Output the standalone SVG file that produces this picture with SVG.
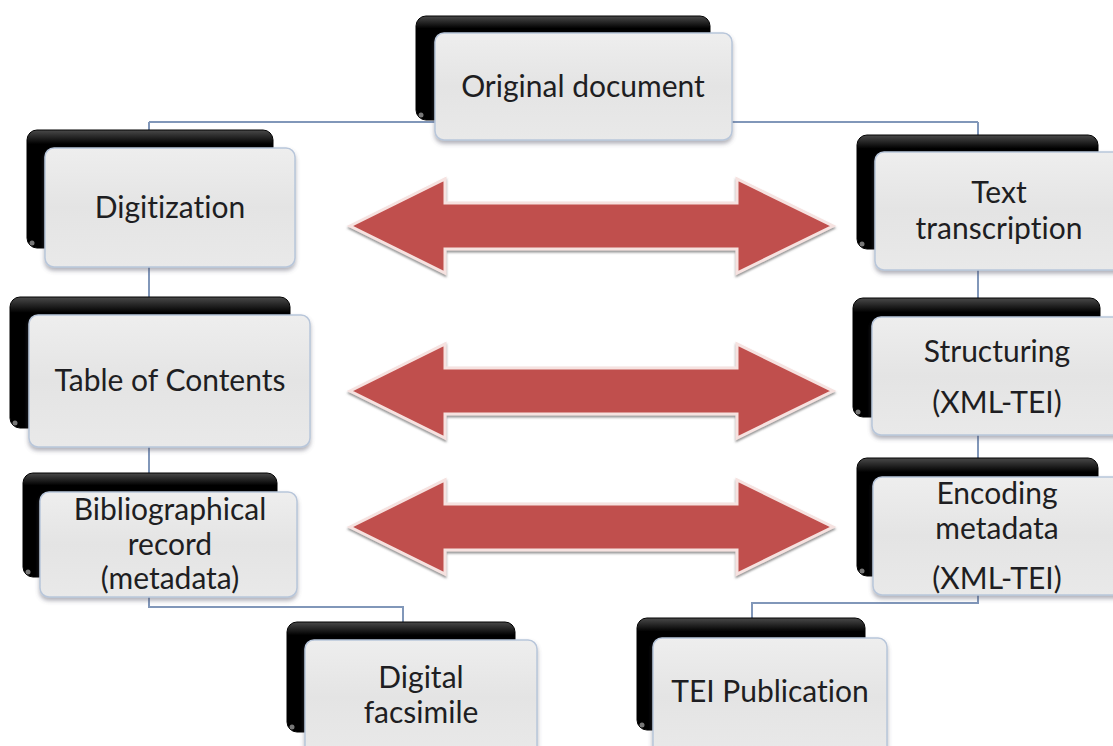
<svg xmlns="http://www.w3.org/2000/svg" width="1113" height="746" viewBox="0 0 1113 746">
<style>
.back{fill:url(#gBlack);stroke:#000;stroke-width:1}
.front{fill:url(#gFront);stroke:#b8c6da;stroke-width:1.5;filter:url(#shadow)}
.lbl{font-family:Lato,"Liberation Sans",sans-serif;font-size:30px;fill:#1e1e22;text-anchor:middle;font-variant-ligatures:none;font-feature-settings:"liga" 0,"clig" 0}
.conn{fill:none;stroke:#8197b9;stroke-width:2}
.arrow{fill:#c0504d;stroke:#f6e2e0;stroke-width:3;stroke-linejoin:miter;filter:url(#ashadow)}
.dot{fill:#777}
</style>
<defs>
<linearGradient id="gBlack" x1="0" y1="0" x2="0" y2="1">
<stop offset="0" stop-color="#4a4a4a"/>
<stop offset="0.12" stop-color="#000"/>
<stop offset="1" stop-color="#000"/>
</linearGradient>
<linearGradient id="gFront" x1="0" y1="0" x2="0" y2="1">
<stop offset="0" stop-color="#eeeeee"/>
<stop offset="0.5" stop-color="#e4e4e4"/>
<stop offset="1" stop-color="#e9e9e9"/>
</linearGradient>
<filter id="shadow" x="-10%" y="-10%" width="120%" height="130%">
<feDropShadow dx="0" dy="3" stdDeviation="2" flood-color="#556" flood-opacity="0.45"/>
</filter>
<filter id="ashadow" x="-10%" y="-20%" width="120%" height="150%">
<feDropShadow dx="0" dy="2" stdDeviation="1.2" flood-color="#666" flood-opacity="0.7"/>
</filter>
<polygon id="dblarrow" points="350,0 445,-47 445,-23 737,-23 737,-47 833,0 737,47 737,23 445,23 445,47"/>
</defs>
<rect width="1113" height="746" fill="#ffffff"/>

<g id="connectors">
<path class="conn" d="M149,122 H978"/>
<path class="conn" d="M149,122 V607 H403 V625"/>
<path class="conn" d="M978,122 V603 H752 V620"/>
</g>

<g id="arrows">
<use href="#dblarrow" class="arrow" transform="translate(0,226)"/>
<use href="#dblarrow" class="arrow" transform="translate(0,391)"/>
<use href="#dblarrow" class="arrow" transform="translate(0,527)"/>
</g>

<g id="n-original">
<rect class="back" x="416" y="16" width="294" height="104" rx="10"/>
<circle class="dot" cx="421" cy="115" r="2.5"/>
<rect class="front" x="435" y="33" width="297" height="107" rx="9"/>
<text class="lbl" x="583" y="97">Original document</text>
</g>

<g id="n-digitization">
<rect class="back" x="27" y="130" width="246" height="118" rx="10"/>
<circle class="dot" cx="32" cy="243" r="2.5"/>
<rect class="front" x="45" y="148" width="250" height="119" rx="9"/>
<text class="lbl" x="170" y="218">Digitization</text>
</g>

<g id="n-toc">
<rect class="back" x="10" y="297" width="280" height="131" rx="10"/>
<circle class="dot" cx="15" cy="423" r="2.5"/>
<rect class="front" x="29" y="315" width="281" height="132" rx="9"/>
<text class="lbl" x="170" y="391">Table of Contents</text>
</g>

<g id="n-biblio">
<rect class="back" x="23" y="473" width="254" height="104" rx="10"/>
<circle class="dot" cx="28" cy="572" r="2.5"/>
<rect class="front" x="40" y="492" width="257" height="105" rx="9"/>
<text class="lbl" x="170" y="520">Bibliographical</text>
<text class="lbl" x="170" y="555">record</text>
<text class="lbl" x="170" y="589">(metadata)</text>
</g>

<g id="n-facsimile">
<rect class="back" x="287" y="622" width="228" height="110" rx="10"/>
<circle class="dot" cx="292" cy="727" r="2.5"/>
<rect class="front" x="305" y="640" width="232" height="115" rx="9"/>
<text class="lbl" x="421" y="688">Digital</text>
<text class="lbl" x="421" y="723">facsimile</text>
</g>

<g id="n-transcription">
<rect class="back" x="857" y="135" width="241" height="114" rx="10"/>
<circle class="dot" cx="862" cy="244" r="2.5"/>
<rect class="front" x="875" y="152" width="250" height="118" rx="9"/>
<text class="lbl" x="999" y="203">Text</text>
<text class="lbl" x="999" y="239">transcription</text>
</g>

<g id="n-structuring">
<rect class="back" x="853" y="298" width="247" height="119" rx="10"/>
<circle class="dot" cx="858" cy="412" r="2.5"/>
<rect class="front" x="872" y="317" width="253" height="118" rx="9"/>
<text class="lbl" x="997" y="362">Structuring</text>
<text class="lbl" x="997" y="413">(XML-TEI)</text>
</g>

<g id="n-encoding">
<rect class="back" x="857" y="458" width="241" height="118" rx="10"/>
<circle class="dot" cx="862" cy="571" r="2.5"/>
<rect class="front" x="873" y="477" width="252" height="118" rx="9"/>
<text class="lbl" x="997" y="504">Encoding</text>
<text class="lbl" x="997" y="539">metadata</text>
<text class="lbl" x="997" y="589">(XML-TEI)</text>
</g>

<g id="n-publication">
<rect class="back" x="637" y="618" width="228" height="112" rx="10"/>
<circle class="dot" cx="642" cy="725" r="2.5"/>
<rect class="front" x="653" y="638" width="234" height="118" rx="9"/>
<text class="lbl" x="770" y="702">TEI Publication</text>
</g>
</svg>
